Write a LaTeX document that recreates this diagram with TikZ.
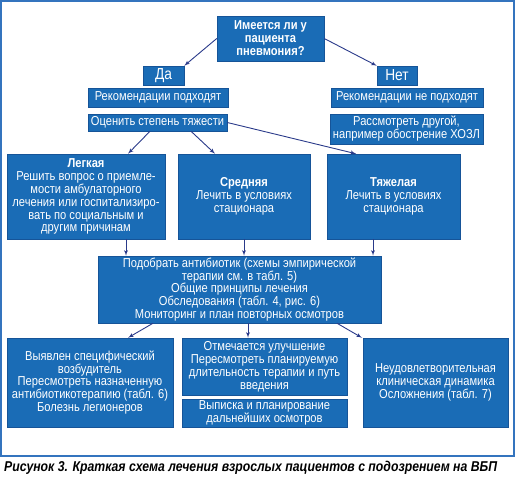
\documentclass[tikz,border=0pt]{standalone}
\usepackage{fontspec}
\setmainfont{Liberation Sans}[FakeStretch=0.86]
\usetikzlibrary{arrows,positioning}
\definecolor{boxblue}{RGB}{26,108,182}
\definecolor{boxedge}{RGB}{22,84,152}
\definecolor{arrowblue}{RGB}{42,58,138}
\definecolor{framecol}{RGB}{52,116,190}
\tikzset{
  stepbox/.style={fill=boxblue, draw=boxedge, line width=0.5bp, text=white, align=center,
    inner sep=1bp, font=\fontsize{13}{13}\selectfont},
  flow/.style={->, draw=arrowblue, line width=0.9bp},
}

\begin{document}
\begin{tikzpicture}[>=latex', x=1bp, y=-1bp]
  \useasboundingbox (0,0) rectangle (515,480);
  \draw[framecol, line width=1.8bp] (1,1) rectangle (514,456);

  % Question and answers
  \node[stepbox, minimum width=107bp, minimum height=45bp] (q) at (270.5,38.5)
    {\bfseries Имеется ли у\\\bfseries пациента\\\bfseries пневмония?};
  \node[stepbox, minimum width=41bp, minimum height=19bp, font=\fontsize{16}{16}\selectfont] (yes) at (163.5,75.5) {Да};
  \node[stepbox, minimum width=40bp, minimum height=19bp, font=\fontsize{16}{16}\selectfont] (no) at (397,75.5) {Нет};

  \node[stepbox, minimum width=140bp, minimum height=19bp] (recyes) at (158,97.5) {Рекомендации подходят};
  \node[stepbox, minimum width=152bp, minimum height=19bp] (recno) at (407,97.5) {Рекомендации не подходят};
  \node[stepbox, minimum width=139bp, minimum height=17bp] (grade) at (157.5,122.5) {Оценить степень тяжести};
  \node[stepbox, minimum width=153bp, minimum height=30bp] (other) at (406.5,129)
    {Рассмотреть другой,\\например обострение ХОЗЛ};

  % Severity
  \node[stepbox, minimum width=158bp, minimum height=85bp] (mild) at (86,196.5)
    {\bfseries Легкая\\Решить вопрос о приемле-\\мости амбулаторного\\лечения или госпитализиро-\\вать по социальным и\\другим причинам};
  \node[stepbox, minimum width=132bp, minimum height=85bp] (moderate) at (244,196.5)
    {\bfseries Средняя\\Лечить в условиях\\стационара};
  \node[stepbox, minimum width=133bp, minimum height=85bp] (severe) at (393.5,196.5)
    {\bfseries Тяжелая\\Лечить в условиях\\стационара};

  % Treatment
  \node[stepbox, minimum width=283bp, minimum height=67bp] (abx) at (239.5,289.5)
    {Подобрать антибиотик (схемы эмпирической\\терапии см. в табл. 5)\\Общие принципы лечения\\Обследования (табл. 4, рис. 6)\\Мониторинг и план повторных осмотров};

  % Outcomes
  \node[stepbox, minimum width=166bp, minimum height=89bp] (specific) at (90,382.5)
    {Выявлен специфический\\возбудитель\\Пересмотреть назначенную\\антибиотикотерапию (табл. 6)\\Болезнь легионеров};
  \node[stepbox, minimum width=165bp, minimum height=57bp] (better) at (264.5,366.5)
    {Отмечается улучшение\\Пересмотреть планируемую\\длительность терапии и путь\\введения};
  \node[stepbox, minimum width=165bp, minimum height=28bp] (discharge) at (264.5,413)
    {Выписка и планирование\\дальнейших осмотров};
  \node[stepbox, minimum width=145bp, minimum height=89bp] (poor) at (435.5,382.5)
    {Неудовлетворительная\\клиническая динамика\\Осложнения (табл. 7)};

  \node[font=\fontsize{14.3}{15}\selectfont\bfseries\itshape, anchor=west, inner sep=0pt] (caption) at (4,468)
    {Рисунок 3. Краткая схема лечения взрослых пациентов с подозрением на ВБП};

  % Edges
  \draw[flow] (q.west) to (yes.north east);
  \draw[flow] (q.east) to (no.north west);

  \draw[flow] ([xshift=-7.5bp]grade.south) to ([xshift=42bp]mild.north);
  \draw[flow] ([xshift=33.5bp]grade.south) to ([xshift=-29bp]moderate.north);
  \draw[flow] (grade.east) to ([xshift=-37.5bp]severe.north);

  \draw[flow] ([xshift=40bp]mild.south) to ([xshift=40bp]mild.south |- abx.north);
  \draw[flow] (moderate.south) to (moderate.south |- abx.north);
  \draw[flow] ([xshift=-20.5bp]severe.south) to ([xshift=-20.5bp]severe.south |- abx.north);

  \draw[flow] ([xshift=-86.5bp]abx.south) to ([xshift=38bp]specific.north);
  \draw[flow] ([xshift=8.5bp]abx.south) to ([xshift=8.5bp]abx.south |- better.north);
  \draw[flow] ([xshift=97.5bp]abx.south) to ([xshift=-73.5bp]poor.north);
\end{tikzpicture}
\end{document}
